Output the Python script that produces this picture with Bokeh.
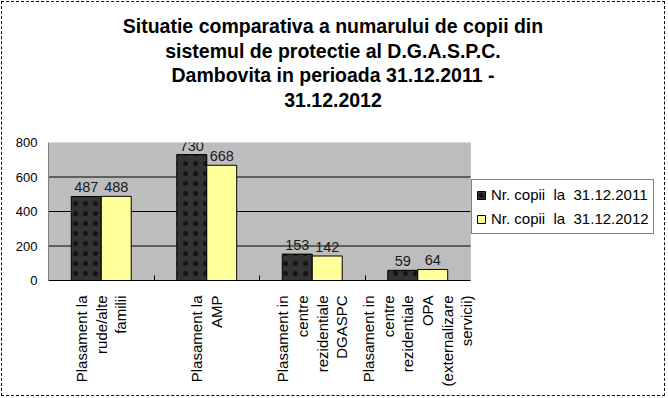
import math
from bokeh.plotting import figure
from bokeh.layouts import column
from bokeh.models import (ColumnDataSource, Legend, LegendItem, LabelSet,
                          Range1d, FixedTicker, Div, BoxAnnotation)
from bokeh.core.properties import value
from bokeh.embed import file_html
from bokeh.resources import INLINE

categories = [
    "Plasament la\nrude/alte\nfamilii",
    "Plasament la\nAMP",
    "Plasament in\ncentre\nrezidentiale\nDGASPC",
    "Plasament in\ncentre\nrezidentiale\nOPA\n(externalizare\nservicii)",
]
values_2011 = [487, 730, 153, 59]
values_2012 = [488, 668, 142, 64]
series_names = ["Nr. copii  la  31.12.2011", "Nr. copii  la  31.12.2012"]
y_ticks = [0, 200, 400, 600, 800]
title_lines = ["Situatie comparativa a numarului de copii din",
               "sistemul de protectie al D.G.A.S.P.C.",
               "Dambovita in perioada 31.12.2011 -",
               "31.12.2012"]

FONT = "Liberation Sans"
n = len(categories)
bw = 0.284
centers = [i + 0.5 for i in range(n)]
boundaries = list(range(1, n))

src = ColumnDataSource(dict(
    x1=[c - bw / 2 for c in centers],
    x2=[c + bw / 2 for c in centers],
    v1=values_2011,
    v2=values_2012,
    t1=[str(v) for v in values_2011],
    t2=[str(v) for v in values_2012],
))

W = 666
title_div = Div(
    text=('<div style="text-align:center;font-family:\'Liberation Sans\';font-weight:bold;'
          'font-size:19.5px;line-height:24.5px;padding-top:14px;color:#000;width:%dpx">' % W
          + "<br>".join(title_lines) + "</div>"),
    width=W, height=118, margin=0)

p = figure(width=W, height=279, x_range=Range1d(0, 612 / 105.5),
           y_range=Range1d(y_ticks[0], y_ticks[-1]), output_backend="svg",
           toolbar_location=None, margin=0,
           min_border_left=48, min_border_right=6, min_border_top=24,
           min_border_bottom=117)
p.background_fill_color = None
p.border_fill_color = None
p.outline_line_color = None

# plot area (categories region only)
p.add_layout(BoxAnnotation(left=0, right=n, bottom=y_ticks[0], top=y_ticks[-1],
                           fill_color="#bdbdbd", fill_alpha=1,
                           line_color="#808080", line_width=1, level="underlay"))
# horizontal grid lines
p.segment(x0=[0] * (len(y_ticks) - 2), x1=[n] * (len(y_ticks) - 2),
          y0=y_ticks[1:-1], y1=y_ticks[1:-1], line_color="#000000", line_width=1)

r1 = p.vbar(x="x1", top="v1", width=bw, source=src,
            fill_color="#333333", line_color="#000000", line_width=1,
            hatch_pattern=".", hatch_color="#000000", hatch_alpha=0.6,
            hatch_scale=10, hatch_weight=1)
r2 = p.vbar(x="x2", top="v2", width=bw, source=src,
            fill_color="#ffff99", line_color="#000000", line_width=1)

for xf, fld, tf in (("x1", "v1", "t1"), ("x2", "v2", "t2")):
    p.add_layout(LabelSet(x=xf, y=fld, text=tf, source=src,
                          text_align="center", text_baseline="bottom", y_offset=4,
                          text_font=value(FONT), text_font_size="14.5px",
                          text_color="#1a1a1a"))

p.xgrid.visible = False
p.ygrid.visible = False

p.yaxis.ticker = FixedTicker(ticks=y_ticks)
p.yaxis.major_tick_out = 0
p.yaxis.major_tick_in = 0
p.yaxis.minor_tick_line_color = None
p.yaxis.axis_line_color = "#808080"
p.yaxis.major_label_standoff = 11
p.yaxis.major_label_text_font = FONT
p.yaxis.major_label_text_font_size = "13px"
p.yaxis.major_label_text_color = "#000000"

p.xaxis.ticker = FixedTicker(ticks=centers, minor_ticks=boundaries)
p.xaxis.major_label_overrides = {c: lab for c, lab in zip(centers, categories)}
p.xaxis.bounds = (0, n)
p.xaxis.major_label_orientation = math.pi / 2
p.xaxis.major_tick_out = 0
p.xaxis.major_tick_in = 0
p.xaxis.minor_tick_in = 5
p.xaxis.minor_tick_out = 0
p.xaxis.minor_tick_line_color = "#000000"
p.xaxis.axis_line_color = "#000000"
p.xaxis.major_label_standoff = 15
p.xaxis.major_label_text_font = FONT
p.xaxis.major_label_text_font_size = "15px"
p.xaxis.major_label_text_line_height = 1.15
p.xaxis.major_label_text_color = "#000000"

legend = Legend(items=[LegendItem(label=series_names[0], renderers=[r1]),
                       LegendItem(label=series_names[1], renderers=[r2])],
                location=(423, 46), margin=0, padding=4, spacing=3,
                label_height=21, glyph_height=10, glyph_width=10, label_standoff=5,
                label_text_font=FONT, label_text_font_size="15px",
                label_text_color="#000000",
                border_line_color="#000000", border_line_width=1,
                background_fill_color="white", background_fill_alpha=1)
p.add_layout(legend, "center")

layout = column(title_div, p, spacing=0,
                styles={"outline": "1px dashed #000000", "outline-offset": "-2px"})
open("out.html", "w").write(file_html(layout, INLINE))
